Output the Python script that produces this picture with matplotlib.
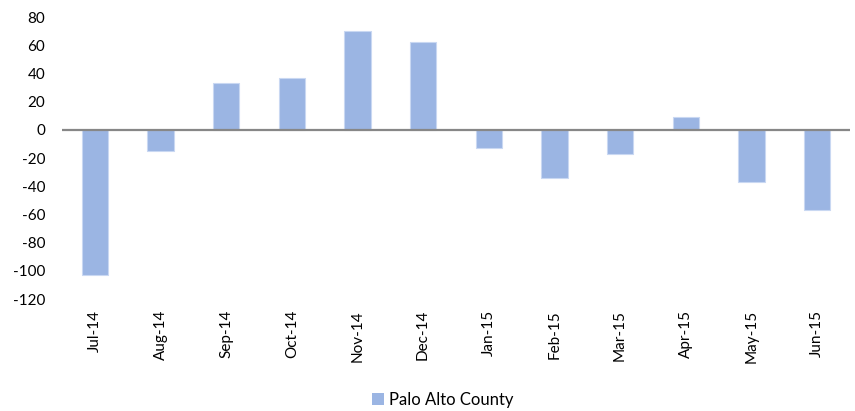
import matplotlib
matplotlib.use("Agg")
import matplotlib.pyplot as plt
from matplotlib.patches import Patch

categories = ["Jul-14", "Aug-14", "Sep-14", "Oct-14", "Nov-14", "Dec-14",
              "Jan-15", "Feb-15", "Mar-15", "Apr-15", "May-15", "Jun-15"]
values = [-103, -15, 33, 37, 70, 62, -13, -34, -17, 9, -37, -57]
series_name = "Palo Alto County"
yticks = [-120, -100, -80, -60, -40, -20, 0, 20, 40, 60, 80]

bar_color = "#9BB5E3"

fig = plt.figure(figsize=(8.55, 4.11), dpi=100)
ax = fig.add_axes([0.0725, 0.2725, 0.9215, 0.686])

x = list(range(len(categories)))
ax.bar(x, values, width=0.4, color=bar_color, edgecolor="#C9D8F2", linewidth=0.8, zorder=2)
ax.axhline(0, color="#878787", linewidth=1.6, zorder=3)

ax.set_xlim(-0.5, len(categories) - 0.5)
ax.set_ylim(-120, 80)
ax.set_yticks(yticks)
ax.set_yticklabels([str(v) for v in yticks], fontfamily="Lato", fontsize=11)
ax.set_xticks(x)
ax.set_xticklabels(categories, rotation=90, fontfamily="Lato", fontsize=11)
ax.tick_params(axis="y", length=0, pad=12)
ax.tick_params(axis="x", length=0, pad=8)
for s in ax.spines.values():
    s.set_visible(False)

handle = Patch(facecolor=bar_color, edgecolor="none", label=series_name)
fig.legend(handles=[handle], loc="center", bbox_to_anchor=(0.518, 0.027),
           frameon=False, prop={"family": "Lato", "size": 12},
           handlelength=0.7, handleheight=0.7, handletextpad=0.35)

fig.savefig("out.png", dpi=100)
